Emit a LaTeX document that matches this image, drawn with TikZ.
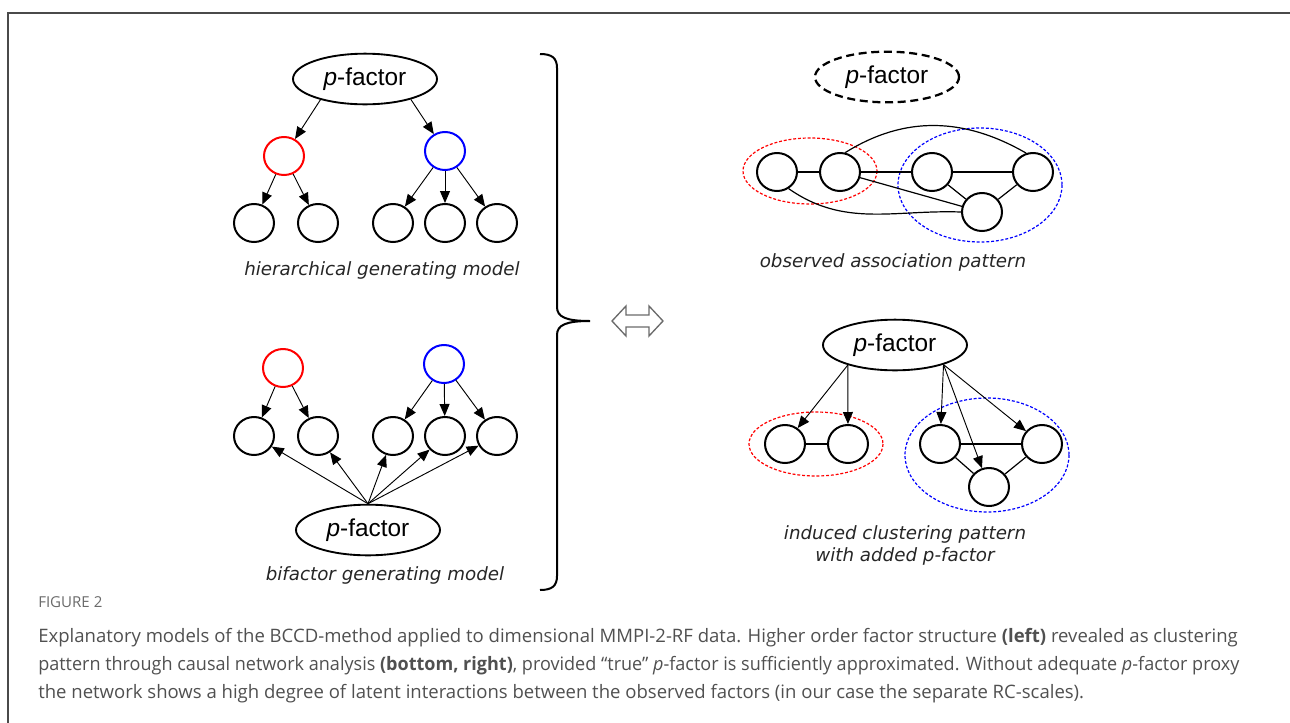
\documentclass[tikz,border=0pt]{standalone}
\usepackage{fontspec}
\setmainfont{Liberation Sans}
\newfontfamily\labelfont{DejaVu Sans}
\newfontfamily\capfont{Open Sans}
\usepackage{tikz}
\usetikzlibrary{positioning, arrows.meta, shapes.geometric}
\definecolor{capgray}{HTML}{505050}
\definecolor{framegray}{HTML}{4A4A4A}
\definecolor{dblgray}{HTML}{6A6A6A}

\begin{document}
\begin{tikzpicture}[x=0.75pt, y=-0.75pt,
  var/.style={draw, ellipse, line width=1.5pt, minimum width=30pt, minimum height=28.5pt, inner sep=0pt},
  pfac/.style={draw, ellipse, line width=1.4pt, minimum width=108pt, minimum height=38pt, inner sep=0pt, font=\fontsize{18.3}{21}\selectfont},
  arr/.style={-{Triangle[length=9pt,width=7.5pt]}, line width=0.7pt},
  link/.style={line width=0.9pt},
  caplabel/.style={font=\labelfont\itshape\fontsize{13.7}{16.5}\selectfont, text=black!85, align=center},
  redclus/.style={red, line width=0.9pt, dash pattern=on 2.2pt off 1.4pt},
  blueclus/.style={blue, line width=0.9pt, dash pattern=on 2.2pt off 1.4pt},
  captext/.style={font=\capfont\fontsize{13.9}{16}\selectfont, text=capgray, anchor=base west, inner sep=0pt}]
\useasboundingbox (0,0) rectangle (1290,722);
\draw[framegray, line width=1.1pt] (8,730) -- (8,13) -- (1300,13);

% hierarchical generating model
\node[pfac] (ph) at (365,79) {\textit{p}-factor};
\node[var, draw=red] (hr) at (284,156) {};
\node[var, draw=blue] (hb) at (445,151) {};
\node[var] (h1) at (254,223) {};
\node[var] (h2) at (318,223) {};
\node[var] (h3) at (393,223) {};
\node[var] (h4) at (445,223) {};
\node[var] (h5) at (497,223) {};
\node[caplabel] (hcap) at (382,270) {hierarchical generating model};
\draw[arr] (ph.205) -- (hr);
\draw[arr] (ph.336) -- (hb);
\draw[arr] (hr) -- (h1);
\draw[arr] (hr) -- (h2);
\draw[arr] (hb) -- (h3);
\draw[arr] (hb) -- (h4);
\draw[arr] (hb) -- (h5);

% bifactor generating model
\node[var, draw=red] (br) at (283,368) {};
\node[var, draw=blue] (bb) at (444,364) {};
\node[var] (b1) at (254,436) {};
\node[var] (b2) at (318,436) {};
\node[var] (b3) at (393,436) {};
\node[var] (b4) at (445,436) {};
\node[var] (b5) at (497,436) {};
\node[pfac] (pb) at (368,530) {\textit{p}-factor};
\node[caplabel] (bcap) at (385,575) {bifactor generating model};
\draw[arr] (br) -- (b1);
\draw[arr] (br) -- (b2);
\draw[arr] (bb) -- (b3);
\draw[arr] (bb) -- (b4);
\draw[arr] (bb) -- (b5);
\foreach \k in {1,...,5}
  \draw[arr] (pb.north) -- (b\k);

% brace and equivalence arrow
\draw[line width=1.5pt] (540,54) .. controls (552,54) and (557,58) .. (557,68) -- (557,307)
  .. controls (557,317) and (566,321) .. (590,321) .. controls (566,321) and (557,325) .. (557,335)
  -- (557,576) .. controls (557,586) and (552,590) .. (540,590);
\draw[dblgray, line width=1pt, fill=white] (612,321) -- (626,306) -- (626,315) -- (649,315) -- (649,306)
  -- (663,321) -- (649,336) -- (649,327) -- (626,327) -- (626,336) -- cycle;

% observed association pattern
\node[pfac, dash pattern=on 6pt off 3.5pt, line width=1.7pt] (pd) at (887,77) {\textit{p}-factor};
\draw[redclus] (810,171) ellipse [x radius=67, y radius=33];
\draw[blueclus] (980,185) ellipse [x radius=82, y radius=57];
\node[var] (o1) at (777,172) {};
\node[var] (o2) at (840,172) {};
\node[var] (o3) at (932,172) {};
\node[var] (o4) at (1033,172) {};
\node[var] (o5) at (982,212) {};
\node[caplabel] (ocap) at (893,262) {observed association pattern};
\draw[link] (o1) -- (o2);
\draw[link] (o2) -- (o3);
\draw[link] (o3) -- (o4);
\draw[link] (o3) -- (o5);
\draw[link] (o4) -- (o5);
\draw[link] (o2) -- (o5);
\draw[link] (o1.-55) to[out=-35, in=178] (o5.west);
\draw[link] (o2.75) to[out=32, in=150] (o4.110);

% induced clustering pattern
\node[pfac] (pi) at (895,345) {\textit{p}-factor};
\draw[redclus] (816,444) ellipse [x radius=67, y radius=32];
\draw[blueclus] (987,455) ellipse [x radius=82, y radius=57];
\node[var] (i1) at (785,444) {};
\node[var] (i2) at (848,444) {};
\node[var] (i3) at (940,444) {};
\node[var] (i4) at (1042,444) {};
\node[var] (i5) at (989,487) {};
\node[caplabel] (icap) at (905,545) {induced clustering pattern\\with added \textit{p}-factor};
\draw[link] (i1) -- (i2);
\draw[link] (i3) -- (i4);
\draw[link] (i3) -- (i5);
\draw[link] (i4) -- (i5);
\draw[arr] (pi.203) -- (i1);
\draw[arr] (pi.203) -- (i2);
\draw[arr] (pi.338) -- (i3);
\draw[arr] (pi.338) -- (i4);
\draw[arr] (pi.338) -- (i5);

% figure caption
\node[captext, font=\capfont\fontsize{11.3}{13}\selectfont, text=dblgray] (fig) at (38,607) {FIGURE 2};
\node[captext] (cap1) at (38,642) {Explanatory models of the BCCD-method applied to dimensional MMPI-2-RF data. Higher order factor structure \textbf{(left)} revealed as clustering};
\node[captext] (cap2) at (38,670) {\scalebox{0.973}[1]{pattern through causal network analysis \textbf{(bottom, right)}, provided “true” \textit{p}-factor is sufficiently approximated. Without adequate \textit{p}-factor proxy}};
\node[captext] (cap3) at (38,698) {the network shows a high degree of latent interactions between the observed factors (in our case the separate RC-scales).};
\end{tikzpicture}
\end{document}
